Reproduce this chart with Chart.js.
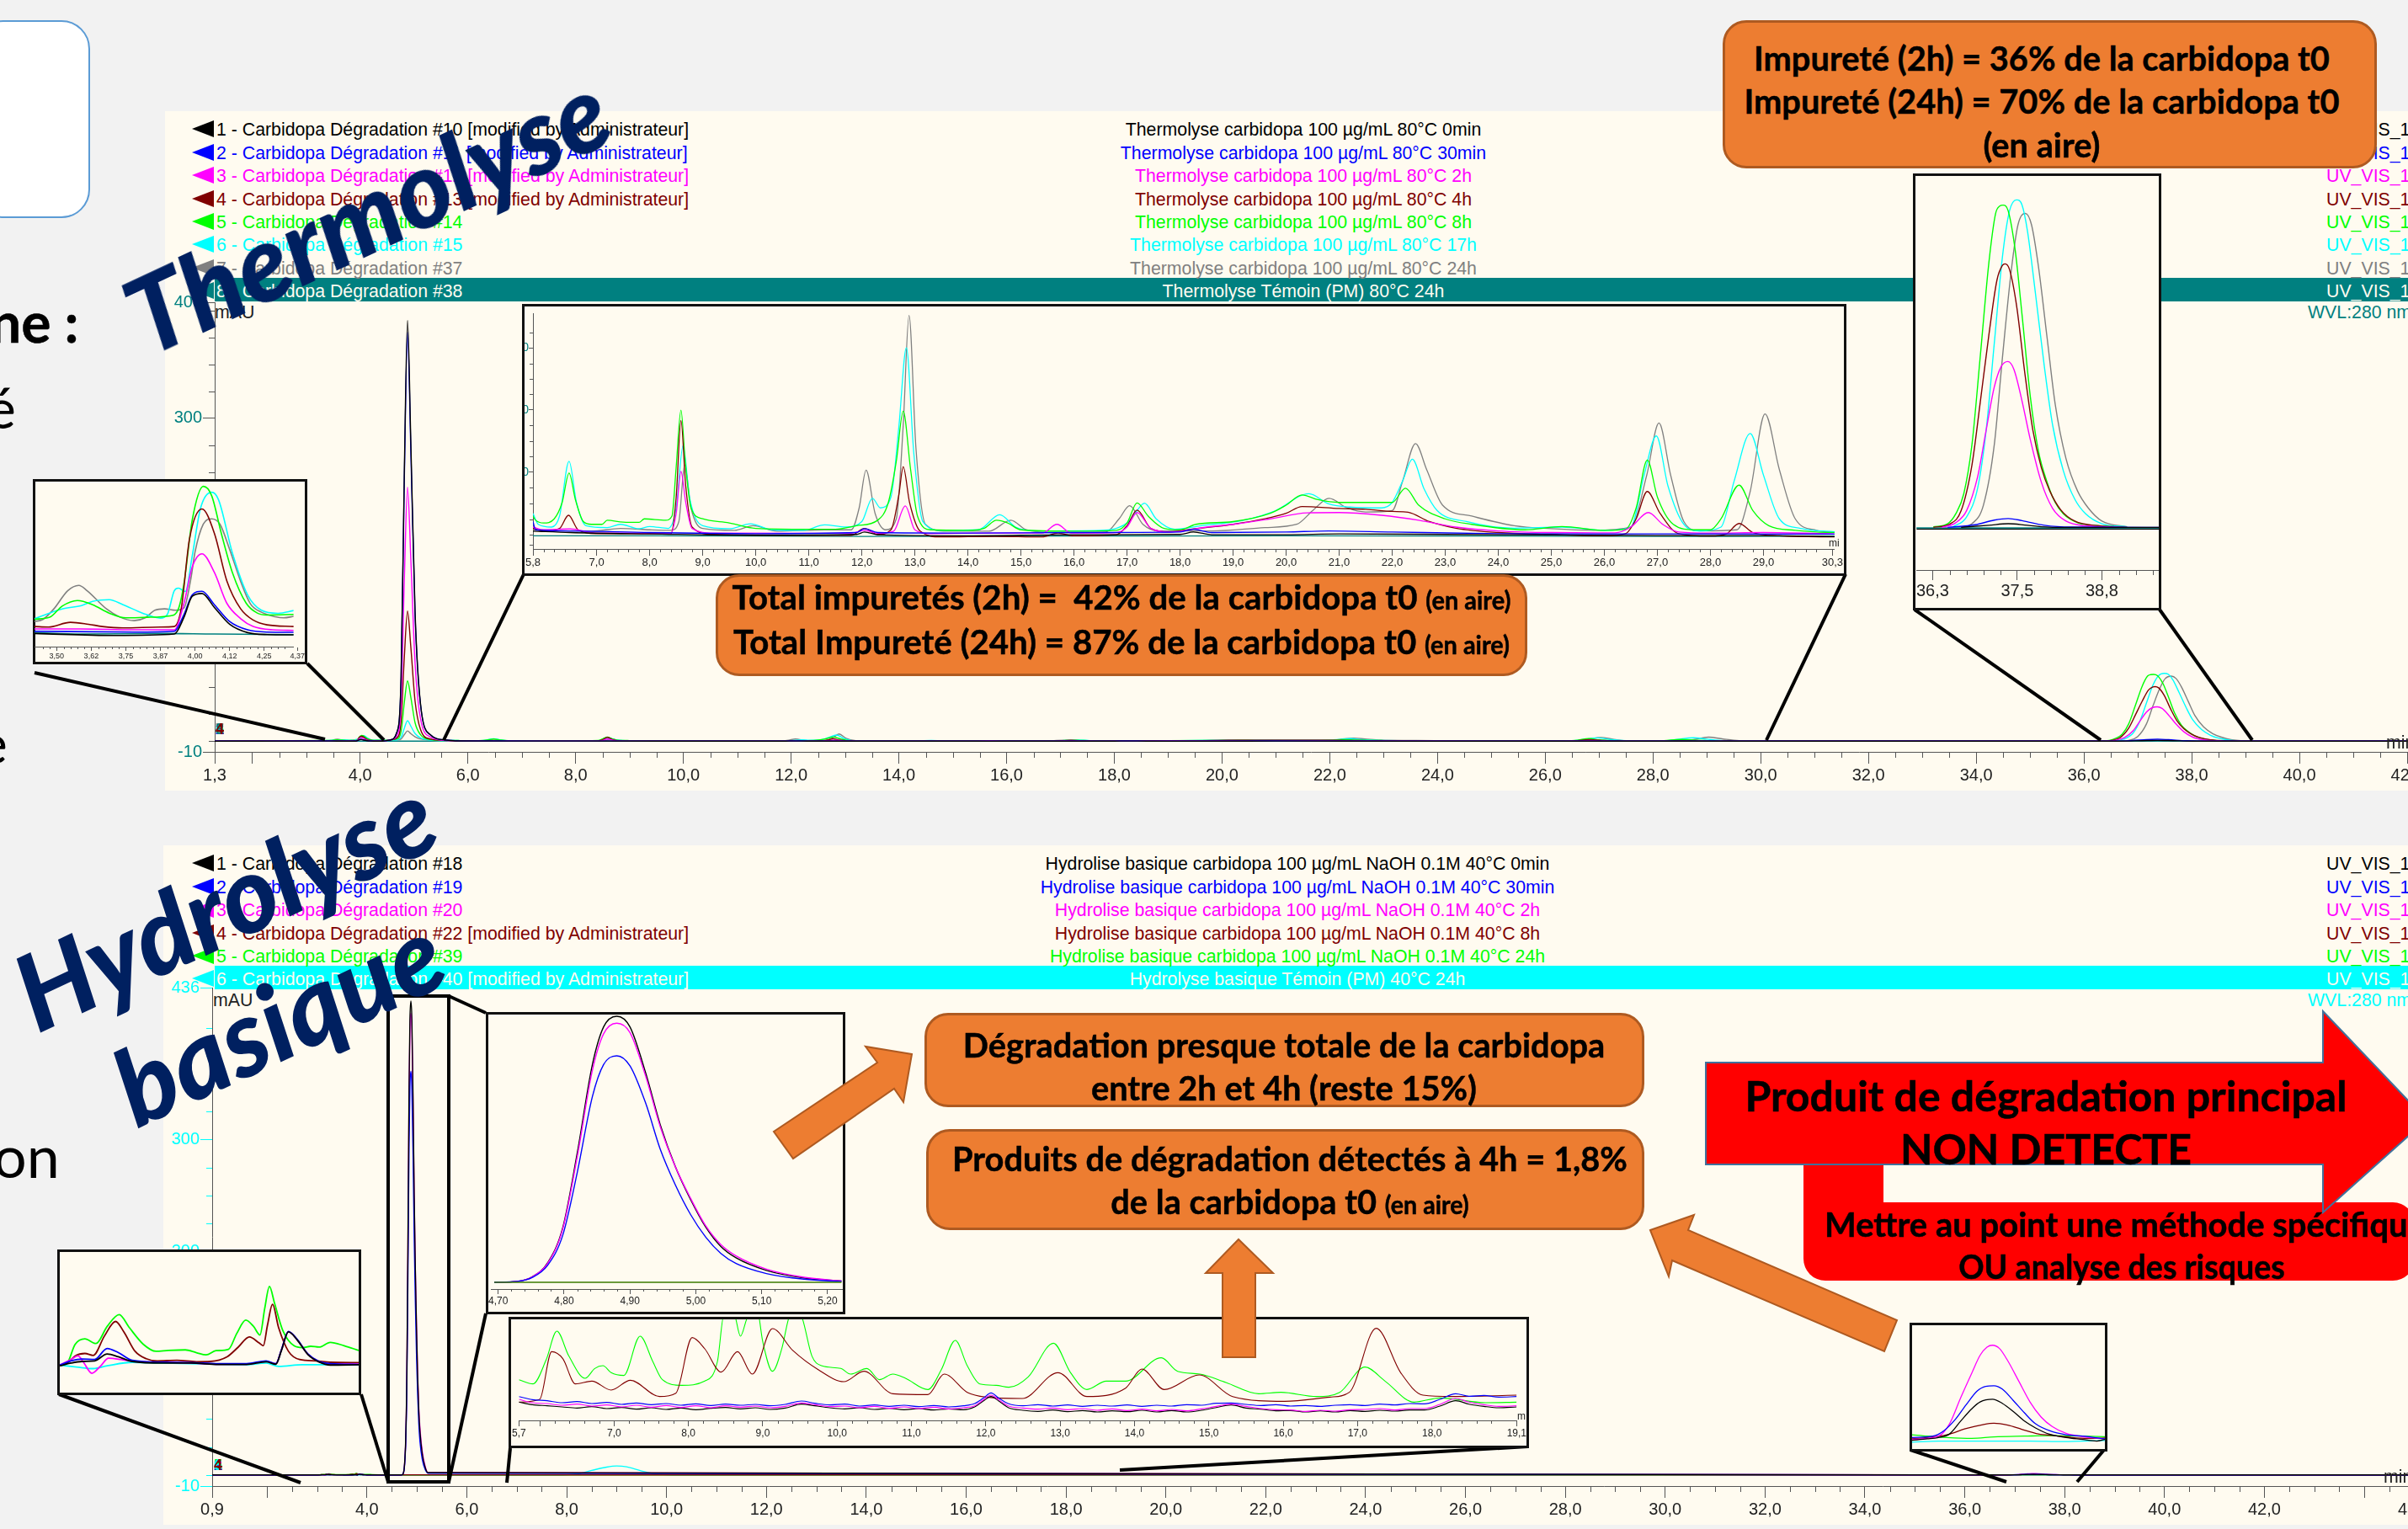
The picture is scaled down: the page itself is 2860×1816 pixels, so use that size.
<!DOCTYPE html>
<html>
<head>
<meta charset="utf-8">
<title>Carbidopa</title>
<script src="https://cdn.jsdelivr.net/npm/chart.js@4"></script>
<style>
  html, body { margin: 0; padding: 0; background: #f2f2f2; }
  #stage { position: relative; width: 2860px; height: 1816px; overflow: hidden; background: #f2f2f2; font-family: "Liberation Sans", Arial, sans-serif; }
  #stage > * { position: absolute; }
  .row { white-space: nowrap; font-size: 21.3px; line-height: 24px; }
  .box { background: #ed7d31; border: 3px solid #ae5a21; border-radius: 28px; box-sizing: border-box; }
  .say { font-family: Lato, sans-serif; font-weight: 700; color: #000; white-space: nowrap; -webkit-text-stroke: 0.5px #000; }
  .say small { font-size: 0.72em; }
  .plain { font-family: Lato, sans-serif; color: #000; white-space: nowrap; }
  .frame { background: #fffbf0; border: 3px solid #111; box-sizing: border-box; }
  .title { font-family: Lato, sans-serif; font-weight: 900; font-style: italic; color: #002060; white-space: nowrap; }
</style>
</head>
<body>
<div id="stage"></div>
<script>
// Trace colours, same order in both runs
const black = "#000000", blue = "#0000ff", magenta = "#ff00ff", darkRed = "#800000";
const green = "#00ff00", cyan = "#00ffff", gray = "#808080", teal = "#008080";

// ---- legend texts ----
const thermoRuns = [
  "1 - Carbidopa Dégradation #10 [modified by Administrateur]",
  "2 - Carbidopa Dégradation #11 [modified by Administrateur]",
  "3 - Carbidopa Dégradation #12 [modified by Administrateur]",
  "4 - Carbidopa Dégradation #13 [modified by Administrateur]",
  "5 - Carbidopa Dégradation #14",
  "6 - Carbidopa Dégradation #15",
  "7 - Carbidopa Dégradation #37",
  "8 - Carbidopa Dégradation #38",
];
const thermoSamples = [
  "Thermolyse carbidopa 100 µg/mL 80°C 0min",
  "Thermolyse carbidopa 100 µg/mL 80°C 30min",
  "Thermolyse carbidopa 100 µg/mL 80°C 2h",
  "Thermolyse carbidopa 100 µg/mL 80°C 4h",
  "Thermolyse carbidopa 100 µg/mL 80°C 8h",
  "Thermolyse carbidopa 100 µg/mL 80°C 17h",
  "Thermolyse carbidopa 100 µg/mL 80°C 24h",
  "Thermolyse Témoin (PM) 80°C 24h",
];
const thermoColors = [black, blue, magenta, darkRed, green, cyan, gray, teal];
const hydroRuns = [
  "1 - Carbidopa Dégradation #18",
  "2 - Carbidopa Dégradation #19",
  "3 - Carbidopa Dégradation #20",
  "4 - Carbidopa Dégradation #22 [modified by Administrateur]",
  "5 - Carbidopa Dégradation #39",
  "6 - Carbidopa Dégradation #40 [modified by Administrateur]",
];
const hydroSamples = [
  "Hydrolise basique carbidopa 100 µg/mL NaOH 0.1M 40°C 0min",
  "Hydrolise basique carbidopa 100 µg/mL NaOH 0.1M 40°C 30min",
  "Hydrolise basique carbidopa 100 µg/mL NaOH 0.1M 40°C 2h",
  "Hydrolise basique carbidopa 100 µg/mL NaOH 0.1M 40°C 8h",
  "Hydrolise basique carbidopa 100 µg/mL NaOH 0.1M 40°C 24h",
  "Hydrolyse basique Témoin (PM) 40°C 24h",
];
const hydroColors = [black, blue, magenta, darkRed, green, cyan];

// ---- ticks ----
const thermoXTicks = [1.3, 2, 4, 6, 8, 10, 12, 14, 16, 18, 20, 22, 24, 26, 28, 30, 32, 34, 36, 38, 40, 42];
const thermoXLabels = ["1,3", "", "4,0", "6,0", "8,0", "10,0", "12,0", "14,0", "16,0", "18,0", "20,0", "22,0", "24,0", "26,0", "28,0", "30,0", "32,0", "34,0", "36,0", "38,0", "40,0", "42,0"];
const thermoYTicks = [408, 300, 200, 100, -10];
const thermoYLabels = ["408", "300", "200", "100", "-10"];
const hydroXTicks = [0.9, 2, 4, 6, 8, 10, 12, 14, 16, 18, 20, 22, 24, 26, 28, 30, 32, 34, 36, 38, 40, 42, 44, 45];
const hydroXLabels = ["0,9", "", "4,0", "6,0", "8,0", "10,0", "12,0", "14,0", "16,0", "18,0", "20,0", "22,0", "24,0", "26,0", "28,0", "30,0", "32,0", "34,0", "36,0", "38,0", "40,0", "42,0", "", "45,0"];
const hydroYTicks = [436, 300, 200, 100, -10];
const hydroYLabels = ["436", "300", "200", "100", "-10"];
const yMinorMain = [400, 375, 350, 325, 275, 250, 225, 175, 150, 125, 75, 50, 25, 0];
const insetATicks = [3.5, 3.625, 3.75, 3.875, 4, 4.125, 4.25, 4.37];
const insetALabels = ["3,50", "3,62", "3,75", "3,87", "4,00", "4,12", "4,25", "4,37"];
const thermoMidTicks = [5.8, 7, 8, 9, 10, 11, 12, 13, 14, 15, 16, 17, 18, 19, 20, 21, 22, 23, 24, 25, 26, 27, 28, 29, 30.3];
const thermoMidLabels = ["5,8", "7,0", "8,0", "9,0", "10,0", "11,0", "12,0", "13,0", "14,0", "15,0", "16,0", "17,0", "18,0", "19,0", "20,0", "21,0", "22,0", "23,0", "24,0", "25,0", "26,0", "27,0", "28,0", "29,0", "30,3"];
const thermoMidYTicks = [68.5, 45.8, 23];
const thermoMidYLabels = ["6,0", "4,0", "2,0"];
const insetBTicks = [36.25, 37.5, 38.75];
const insetBLabels = ["36,3", "37,5", "38,8"];
const hydroMidTicks = [5.72, 6, 7, 8, 9, 10, 11, 12, 13, 14, 15, 16, 17, 18, 19.14];
const hydroMidLabels = ["5,7", "", "7,0", "8,0", "9,0", "10,0", "11,0", "12,0", "13,0", "14,0", "15,0", "16,0", "17,0", "18,0", "19,1"];
const insetCTicks = [4.7, 4.8, 4.9, 5, 5.1, 5.2];
const insetCLabels = ["4,70", "4,80", "4,90", "5,00", "5,10", "5,20"];

// ---- thermolysis, main peak at 4,88 min (mAU) ----
const thermoPeakTimes = [4.42, 4.55, 4.68, 4.76, 4.82, 4.88, 4.94, 5.02, 5.12, 5.3, 5.6];
const thermoPeakBlack = [0, 1, 8, 60, 250, 391, 280, 120, 35, 6, 1];
const thermoPeakBlue = [0, 1, 8, 58, 243, 380, 272, 116, 34, 6, 1];
const thermoPeakMagenta = [0.1, 1, 5, 36, 150, 236, 170, 72, 21, 4, 0.6];
const thermoPeakDarkRed = [0.2, 1, 3, 19, 78, 121, 88, 37, 11, 2, 0.6];
const thermoPeakGreen = [0.6, 1, 2, 9, 36, 56, 41, 17, 6, 1.5, 0.5];
const thermoPeakCyan = [0.7, 0.8, 1.2, 3.5, 12, 19, 14, 7, 3, 1, 0.4];
const thermoPeakGray = [0.6, 0.7, 1, 2, 6, 9.5, 7, 4, 2, 0.8, 0.3];
const thermoPeakTeal = [0, 0, 0, 0, 0, 0, 0, 0, 0, 0, 0];

// ---- thermolysis, zoom 3,4 - 4,4 min: [time, value] ----
const aGray = [[3.42,.47],[3.45,.54],[3.49,.92],[3.54,1.57],[3.58,1.76],[3.61,1.57],[3.68,.92],[3.73,.62],[3.78,.5],[3.82,.6],[3.855,.87],[3.89,.92],[3.93,.87],[3.96,.95],[3.985,2],[4,2.95],[4.03,3.95],[4.06,4.14],[4.09,3.95],[4.125,3.05],[4.165,1.9],[4.2,1.1],[4.24,.8],[4.29,.64],[4.32,.6],[4.36,.66]];
const aGreen = [[3.42,.55],[3.475,.62],[3.52,1.02],[3.575,1.22],[3.63,1.07],[3.69,.77],[3.75,.6],[3.83,.62],[3.91,.67],[3.94,.92],[3.96,1.82],[3.99,4.1],[4.03,5.3],[4.06,4.97],[4.095,3.62],[4.135,2.22],[4.185,1.12],[4.225,.77],[4.26,.7],[4.357,.72]];
const aCyan = [[3.42,.57],[3.52,.92],[3.59,1.04],[3.63,1.19],[3.69,1.25],[3.74,1.07],[3.81,.77],[3.875,.59],[3.9,.72],[3.925,1.57],[3.94,1.66],[3.965,1.54],[3.99,2.82],[4.02,4.52],[4.06,5.09],[4.085,4.82],[4.135,2.92],[4.19,1.42],[4.24,.87],[4.3,.76],[4.357,.86]];
const aDarkRed = [[3.42,.29],[3.47,.27],[3.55,.44],[3.615,.37],[3.665,.29],[3.74,.24],[3.875,.27],[3.925,.29],[3.95,.92],[3.98,3.42],[4.025,4.49],[4.07,3.62],[4.115,1.92],[4.165,.92],[4.21,.52],[4.26,.35],[4.357,.29]];
const aMagenta = [[3.42,.2],[3.585,.2],[3.78,.17],[3.925,.17],[3.96,1.12],[3.99,2.42],[4.025,2.89],[4.07,2.22],[4.115,1.12],[4.165,.57],[4.21,.29],[4.28,.17],[4.357,.15]];
const aBlue = [[3.42,.12],[3.78,.09],[3.925,.12],[3.96,.72],[3.99,1.42],[4.025,1.55],[4.07,1.07],[4.125,.47],[4.19,.17],[4.26,.09],[4.357,.08]];
const aBlack = [[3.42,.04],[3.71,-.03],[3.925,.02],[3.96,.62],[3.99,1.37],[4.025,1.47],[4.07,.97],[4.125,.37],[4.19,.07],[4.26,0],[4.357,-.01]];
const aTeal = [[3.42,.07],[3.585,.02],[3.87,.04],[4.07,.02],[4.357,0]];

// ---- thermolysis, zoom 5,8 - 30 min ----
const midBlack = [[5.8,1.5],[6.5,1],[8,.5],[10,0],[11.9,.3],[12.05,1.2],[12.3,.2],[14,-.2],[16,.2],[18,.3],[18.25,1.2],[18.6,.2],[20,.2],[21,.5],[23,.3],[25,.1],[27,-.1],[29,-.1],[30.4,-.5]];
const midBlue = [[5.8,5],[5.85,2],[6.5,1.6],[8,1],[10,.6],[11.9,1],[12.05,2.4],[12.3,1],[14,.8],[16,1],[18,1.2],[18.25,2.2],[18.6,1],[20,1.2],[20.8,1.6],[22,1.2],[24,.6],[26,.5],[28,.5],[30.4,.4]];
const midMagenta = [[5.8,3],[6,2],[6.5,2.3],[7,.8],[8.4,.8],[8.5,8],[8.59,23.3],[8.68,12],[8.8,2.5],[9.2,.8],[11.8,.7],[12.05,1.8],[12.3,.7],[12.6,1.5],[12.82,10.7],[13,2],[13.3,.6],[14.5,.8],[15.4,.8],[15.68,4],[15.95,.8],[16.8,1],[17,3],[17.19,8.3],[17.45,2.5],[17.8,1.2],[18.5,3],[19,4],[19.7,6],[20.4,8.2],[21,8.3],[21.8,7.3],[22.5,5.5],[23.2,3],[24,1.6],[25,1],[26.2,.9],[26.5,3],[26.83,8.3],[27.1,4],[27.4,1.2],[28,.8],[29,1],[30.4,.5]];
const midDarkRed = [[5.8,2.5],[6,1.5],[6.3,2.5],[6.47,7.3],[6.65,2],[7,.6],[8.4,.5],[8.5,14],[8.59,41.9],[8.68,18],[8.8,3],[9.2,.3],[11.8,0],[12.05,2.5],[12.3,.3],[12.55,2],[12.7,15],[12.78,25],[12.9,12],[13.1,1.5],[13.5,-.6],[14.5,-.4],[15.4,-.6],[15.7,.8],[16,-.2],[16.8,.2],[17,3.5],[17.19,9.2],[17.45,2.5],[17.8,1.2],[18.2,2.2],[19,4],[19.6,6],[20,8],[20.3,10.5],[21,9.8],[21.5,9.5],[22,8.7],[22.3,8.4],[22.7,5],[23.2,2.6],[24,1],[25,.3],[26,-.2],[26.4,.6],[26.6,6],[26.81,16],[27.05,8],[27.4,.6],[28,-.3],[28.3,.5],[28.54,4.3],[28.8,1],[29.3,-.2],[30.4,-.6]];
const midGreen = [[5.8,7],[5.85,5.5],[6,4.5],[6.2,6],[6.35,12],[6.48,22.7],[6.6,13],[6.75,5],[6.9,4],[7.1,4],[7.2,5.5],[7.5,4.8],[7.8,4.7],[7.9,6],[8.3,5.5],[8.42,7],[8.5,25],[8.59,45.7],[8.67,27],[8.78,10],[9,6],[9.5,4.5],[10,2.5],[11,2.2],[11.5,2.2],[11.9,3.5],[12.3,5.5],[12.5,12],[12.65,27],[12.78,45.3],[12.92,24],[13.05,7],[13.3,2],[14,1.8],[14.3,2.5],[14.54,5.5],[14.75,4.5],[15,2],[16,1.5],[16.8,1.8],[17,4.5],[17.19,11.8],[17.4,7],[17.7,2.5],[18,2],[18.3,4],[19,5],[19.7,8],[20,11],[20.3,14.7],[20.6,13],[21,12],[21.5,12],[22,12],[22.25,17.2],[22.5,11],[23,6],[23.5,4],[24.5,2],[25.2,3.2],[26,1.8],[26.4,2.2],[26.6,10],[26.81,27.5],[27,14],[27.3,4],[27.7,2],[28,2],[28.2,6],[28.54,18.3],[28.8,9],[29.1,3.5],[29.6,1.8],[30,1.2],[30.4,1]];
const midCyan = [[5.8,8],[5.9,4],[6.15,3],[6.3,7],[6.48,27],[6.62,12],[6.8,3.5],[7.2,2.8],[7.45,4],[7.8,2.4],[8,3.2],[8.35,2.5],[8.5,10],[8.63,32.8],[8.75,14],[9,3.5],[9.5,2.4],[9.9,4.2],[10.3,2],[10.9,1.8],[11.3,3.8],[11.7,3],[12,5],[12.2,13.5],[12.35,10],[12.55,14],[12.7,40],[12.84,68.5],[12.98,30],[13.15,5],[13.5,1.8],[14.2,2],[14.6,7.5],[14.9,3],[15.3,1.6],[16.5,1.8],[17,4.5],[17.15,8],[17.33,11.7],[17.55,6],[17.9,2.2],[18.4,3.5],[19.2,5.5],[19.8,9],[20.43,15.2],[20.8,11.5],[21.2,10.3],[21.8,10],[22,12],[22.2,20],[22.38,27.8],[22.6,17],[22.85,9],[23.4,5],[24.3,2.6],[25.2,3],[26,1.8],[26.5,3],[26.75,22],[26.98,36.3],[27.2,18],[27.5,4],[27.8,1.6],[28.2,3],[28.45,20],[28.75,37.2],[29,22],[29.3,6],[29.7,2.5],[30.4,1.2]];
const midGray = [[5.8,2],[6,1.8],[6.9,1.5],[7.45,2.5],[8,2],[8.4,1.8],[8.55,5],[8.66,25.8],[8.78,10],[9,2.5],[9.6,1.8],[9.95,3.5],[10.4,1.5],[11.3,2],[11.8,2],[11.95,10],[12.08,23.8],[12.25,8],[12.45,2],[12.65,6],[12.78,40],[12.89,80.3],[13.02,32],[13.2,4],[13.6,1.5],[14.4,1.5],[14.81,5.5],[15.1,2],[15.6,1],[16.6,1.2],[16.85,6],[17.05,10.8],[17.3,4],[17.6,1.6],[18.6,1.6],[19.6,2.8],[20.2,4],[20.5,9],[20.81,13.5],[21.15,10],[21.5,8.5],[22,9],[22.2,20],[22.44,33.5],[22.65,24],[22.95,11],[23.5,7],[24.3,3.5],[25,2.4],[25.8,1.8],[26.5,3],[26.8,22],[27.03,41],[27.25,22],[27.5,5],[27.8,1.6],[28.5,2],[28.75,16],[29.03,44.3],[29.3,24],[29.6,6],[30,1.8],[30.4,1]];
const midTeal = [[5.8,-.2],[8,-.2],[12,-.4],[16,-.3],[20,-.2],[24,-.3],[28,-.4],[30.4,-.3]];

// ---- thermolysis, zoom 36 - 39,6 min (mAU) ----
const bGreen = [[36.26,.1],[36.47,.7],[36.59,2.6],[36.71,6.5],[36.83,15.9],[36.955,33.2],[37.08,50.9],[37.18,60.4],[37.24,61.8],[37.29,62],[37.365,60.9],[37.47,53.2],[37.57,40.9],[37.69,25.4],[37.81,14.8],[37.94,8.7],[38.06,4.8],[38.18,2.6],[38.39,.9],[38.71,.3],[39.12,0]];
const bDarkRed = [[36.26,0],[36.51,.7],[36.67,3.2],[36.83,12],[36.955,24.3],[37.08,37],[37.2,47.6],[37.28,50.4],[37.32,50.7],[37.385,49.6],[37.49,42.6],[37.61,29.8],[37.73,18.7],[37.855,11.5],[37.98,7],[38.14,3.4],[38.35,1.2],[38.71,.3],[39.12,0]];
const bCyan = [[36.55,.1],[36.75,2],[36.915,7.6],[37.04,18.7],[37.16,35.4],[37.28,52],[37.385,60.9],[37.49,63],[37.57,62],[37.65,57],[37.77,44.8],[37.9,30.9],[38.02,19.8],[38.18,10.9],[38.35,5.4],[38.51,2.6],[38.75,.7],[39.12,.1]];
const bGray = [[36.67,0],[36.83,.7],[37,4.3],[37.16,15.9],[37.28,32.6],[37.41,49.3],[37.51,58.2],[37.62,60.4],[37.71,58.2],[37.81,50.4],[37.94,36.5],[38.06,23.7],[38.22,13.2],[38.39,7],[38.55,3.7],[38.75,1.2],[39.12,.1]];
const bMagenta = [[36.385,0],[36.59,.9],[36.75,3.2],[36.915,9.8],[37.04,18.7],[37.16,27],[37.26,30.9],[37.36,31.9],[37.45,30.4],[37.57,24.3],[37.69,17],[37.855,8.7],[38.02,3.7],[38.22,1.2],[38.51,.3],[39.12,0]];
const bBlue = [[36.47,0],[36.875,.5],[37.16,1.4],[37.365,1.7],[37.57,1.3],[37.9,.4],[38.3,.05],[39.59,0]];
const bBlack = [[36.67,0],[37.08,.4],[37.365,.7],[37.65,.4],[38.02,0],[39.59,0]];
const bTeal = [[36,-.1],[37.5,-.1],[39.59,-.1]];
const bBase = [[36.01,-.3],[39.59,-.3]];

// ---- basic hydrolysis, main peak, also its zoom 4,7 - 5,2 min (mAU) ----
const cTimes = [4.694, 4.729, 4.752, 4.775, 4.798, 4.82, 4.843, 4.86, 4.88, 4.9, 4.924, 4.946, 4.969, 4.992, 5.015, 5.038, 5.061, 5.107, 5.164, 5.221];
const cBlack = [0, 1.5, 9, 31, 87, 206, 347, 407, 424, 407, 333, 251, 184, 132, 88, 57, 39, 19, 7, 2];
const cMagenta = [0, 1.5, 9, 30, 85, 200, 338, 396, 413, 398, 328, 248, 184, 134, 90, 60, 42, 21, 8, 2];
const cBlue = [0, 1.5, 8, 27, 75, 175, 296, 347, 361, 345, 285, 212, 155, 108, 72, 46, 30, 14, 5, 1.5];
const cFlat = [0, 0, 0, 0, 0, 0, 0, 0, 0, 0, 0, 0, 0, 0, 0, 0, 0, 0, 0, 0];

// ---- basic hydrolysis, small peaks around 3 - 4,1 min ----
const eGreen = [[3.03,0],[3.055,.05],[3.085,.75],[3.12,.95],[3.16,.78],[3.2,1.4],[3.243,1.83],[3.28,1.35],[3.33,.75],[3.375,.5],[3.42,.53],[3.48,.55],[3.52,.45],[3.555,.37],[3.59,.52],[3.635,.57],[3.665,1.15],[3.697,1.63],[3.725,1.4],[3.748,1.09],[3.765,2.05],[3.782,2.85],[3.8,2.25],[3.83,1.25],[3.87,.7],[3.9,.63],[3.93,.68],[3.96,.65],[4,.82],[4.05,.7],[4.102,.53]];
const eDarkRed = [[3.03,0],[3.06,.1],[3.085,.33],[3.12,.42],[3.15,.35],[3.19,1.05],[3.23,1.58],[3.26,1.2],[3.3,.5],[3.34,.23],[3.38,.15],[3.45,.17],[3.52,.12],[3.57,.13],[3.63,.3],[3.67,.65],[3.71,1.02],[3.745,.8],[3.76,.7],[3.775,1.45],[3.793,2.2],[3.815,1.35],[3.85,.5],[3.89,.2],[3.95,.15],[4,.1],[4.102,.09]];
const eBlue = [[3.03,0],[3.07,.15],[3.11,.22],[3.155,.2],[3.2,.6],[3.24,.45],[3.29,.17],[3.4,.1],[3.5,.09],[3.6,.05],[3.7,.05],[3.77,.15],[3.805,.05],[3.825,.55],[3.85,1.22],[3.88,.95],[3.92,.4],[3.96,.13],[4,.05],[4.102,.02]];
const eBlack = [[3.03,-.03],[3.07,.07],[3.11,.13],[3.155,.15],[3.2,.4],[3.24,.3],[3.29,.13],[3.4,.07],[3.5,.07],[3.6,.02],[3.7,.02],[3.77,.12],[3.805,.03],[3.825,.53],[3.85,1.2],[3.88,.93],[3.92,.38],[3.96,.11],[4,0],[4.102,.01]];
const eMagenta = [[3.03,0],[3.07,.2],[3.095,.33],[3.115,.1],[3.145,-.3],[3.175,-.05],[3.205,.25],[3.25,.2],[3.29,.13],[3.4,.1],[3.5,.07],[3.6,.03],[3.7,.03],[3.77,.13],[3.805,.05],[3.825,.55],[3.85,1.21],[3.88,.94],[3.92,.39],[3.96,.12],[4,.03],[4.102,.03]];
const eCyan = [[3.03,0],[3.09,-.07],[3.15,-.13],[3.2,-.03],[3.29,.1],[3.4,.07],[3.5,.05],[3.7,.01],[3.77,.07],[3.815,-.05],[3.9,.01],[4,.01],[4.102,.01]];

// ---- basic hydrolysis, zoom 5,7 - 19,1 min ----
const dGreen = [[5.72,14.5],[5.91,13],[6.085,21.5],[6.23,31.8],[6.39,23],[6.61,15],[6.74,18.5],[6.85,19.5],[6.96,17],[7.13,16],[7.35,30],[7.52,21],[7.65,14.5],[7.91,12.5],[8.22,14],[8.39,21],[8.48,38],[8.61,38],[8.7,30],[8.79,36.5],[8.92,40],[9,28],[9.13,17.5],[9.26,26],[9.35,36.5],[9.44,40],[9.53,36.5],[9.66,23],[9.79,19.5],[10.05,18.5],[10.18,16.5],[10.4,18.5],[10.57,14.5],[10.75,16.5],[10.92,15],[11.22,11],[11.4,18],[11.59,28.5],[11.75,19.5],[11.92,13],[12.14,12.5],[12.31,11.8],[12.57,15.5],[12.91,27.5],[13.14,17],[13.36,11],[13.62,14],[13.88,14],[14.36,22.3],[14.58,17.5],[14.88,16.5],[15.23,13.5],[15.67,9.5],[15.97,10],[16.45,8.5],[16.76,10],[17.1,19],[17.37,14],[17.76,6.5],[18.11,8],[18.72,6.3],[19.14,6.5]];
const dDarkRed = [[5.72,6.5],[6,7.5],[6.16,24.5],[6.31,22],[6.48,13],[6.7,14],[6.96,10.8],[7.22,14.3],[7.61,8.5],[7.83,9.7],[8.05,29.5],[8.22,25.5],[8.44,17.2],[8.66,24.5],[8.86,16.5],[9.13,32.7],[9.4,25],[9.75,18],[10.09,13.8],[10.36,17.5],[10.75,9.5],[11.22,9.2],[11.44,16.5],[11.75,10],[12.01,8.3],[12.49,7.8],[12.97,17],[13.36,8.5],[13.88,11.5],[14.1,18.3],[14.4,11],[14.87,16.2],[15.32,8.5],[16.02,6.8],[16.63,8.3],[16.89,10],[17.25,32.8],[17.58,17],[17.88,9],[18.28,8.5],[19.14,9]];
const dLowTimes = [5.72,5.9,6.1,6.3,6.5,6.7,6.9,7.1,7.3,7.5,7.7,7.9,8.1,8.3,8.5,8.7,8.9,9.1,9.3,9.52,9.7,9.9,10.1,10.3,10.5,10.7,10.9,11.1,11.3,11.5,11.7,11.85,11.97,12.07,12.17,12.3,12.5,12.7,12.9,13.1,13.3,13.5,13.7,13.9,14.1,14.3,14.5,14.7,14.9,15.1,15.3,15.5,15.7,15.9,16.1,16.3,16.5,16.7,16.9,17.1,17.3,17.5,17.7,17.9,18.1,18.32,18.5,18.7,18.9,19.14];
const dBlue = [8.5,7.4,7,6.3,6.7,6,6.4,5.7,6.2,5.6,6,5.4,5.9,5.3,5.8,5.4,5.7,5.2,5.7,6.9,6.1,5.5,5.8,5.1,5.5,5,5.4,4.9,5.3,4.8,5.2,6,8,9.8,8,6,5.2,5.6,5.1,5.5,5,5.4,5.1,5.5,5,5.4,5.1,5.6,5.4,6.1,6.2,5.7,5.3,5.6,5.1,5.3,5,5.4,5.6,5.3,5.8,5.5,6,5.9,7.4,9.5,8.6,8.9,8.3,8.5];
const dBlack = [6.5,5.6,5.2,4.8,4.4,4.9,4.2,4.6,4,4.5,3.9,4.4,3.8,4.3,4.6,4.1,4.5,3.9,4.4,5.8,5.2,4.5,4.1,4.5,3.9,4.3,3.8,4.2,3.7,4.1,3.8,4.8,7,8.5,7,4.6,3.6,3.2,3.7,3.1,3.5,3,3.4,3.1,3.6,3,3.5,3,3.6,4.6,5.5,4.4,4,3.4,3.5,3,3.4,3,3.5,3.2,3.6,3.3,3.7,3.7,5,7,5.8,5,4.5,4.8];
const dMagenta = [7.5,6.3,6,5.4,5.8,5.1,5.5,4.8,5.4,4.7,5.3,4.6,5.2,4.5,5.2,4.7,5.1,4.5,5,6.2,5.6,4.9,5.1,4.5,5,4.3,4.8,4.2,4.7,4.1,4.5,5.2,7.4,9,7.4,5.2,4.4,4,4.4,3.8,4.2,3.6,4.1,3.5,4,3.4,3.9,3.4,4.1,5,5.8,5,4.2,3.8,3.7,3.2,3.6,3.3,3.8,3.9,4.2,3.7,4.2,4.2,5.6,7.8,6.5,5.6,5,5.2];

// ---- basic hydrolysis, zoom around 37,4 min ----
const fMagenta = [[36.8,.08],[36.99,.2],[37.07,.65],[37.15,1.6],[37.23,2.5],[37.29,3.15],[37.34,3.45],[37.38,3.52],[37.43,3.4],[37.49,2.95],[37.57,2.2],[37.65,1.45],[37.73,.9],[37.81,.55],[37.91,.3],[38.03,.18],[38.19,.1]];
const fBlue = [[36.8,.15],[36.95,.2],[37.03,.4],[37.11,.8],[37.19,1.35],[37.27,1.85],[37.33,2.02],[37.39,2.04],[37.45,1.92],[37.53,1.5],[37.61,1.05],[37.69,.65],[37.79,.4],[37.91,.25],[38.03,.2],[38.19,.1]];
const fBlack = [[36.8,.05],[36.91,.1],[36.99,.15],[37.07,.28],[37.15,.75],[37.23,1.2],[37.29,1.45],[37.38,1.55],[37.45,1.4],[37.53,1.1],[37.61,.75],[37.69,.5],[37.79,.27],[37.91,.15],[38.03,.08],[38.13,.02],[38.19,.08]];
const fDarkRed = [[36.8,.1],[36.91,.15],[37.05,.25],[37.19,.48],[37.31,.62],[37.39,.67],[37.49,.6],[37.59,.45],[37.71,.28],[37.83,.22],[37.95,.15],[38.07,.12],[38.19,.13]];
const fGreen = [[36.8,.25],[36.91,.2],[37.05,.15],[37.23,.12],[37.39,.17],[37.61,.2],[37.79,.22],[38.03,.2],[38.19,.18]];
const fCyan = [[36.8,-.02],[36.99,.02],[37.23,.02],[37.39,.02],[37.65,.02],[37.89,0],[38.19,.04]];

// cyan hump of the control on the main hydrolysis trace
const hydroCyanHump = [[7.9,0],[8.2,.8],[8.5,4],[8.8,7],[9,8],[9.2,7.2],[9.5,3.5],[9.8,.8],[10.1,0]];

// the zoomed windows are the same traces at a bigger y scale
const scaled = (list, k) => list.map(([t, v]) => [t, v * k]);
const paired = (times, values) => times.map((t, i) => [t, values[i]]);
const thermoTrace = (a, peak, mid, b) => [[1.3, 0], ...a, ...paired(thermoPeakTimes, peak), ...scaled(mid, 0.083), ...b, [42, 0]];
const hydroTrace = (e, peak, f) => [[0.9, 0], ...scaled(e, 0.5), ...peak, ...f, [45.5, 0]];

const stage = document.getElementById("stage");

function addEl(cls, css, html) {
  const el = document.createElement("div");
  el.className = cls;
  el.style.cssText = css;
  if (html) el.innerHTML = html;
  stage.appendChild(el);
  return el;
}

// One Chart.js chart with its plot area pinned to given page pixels
function addChart(c) {
  const canvas = document.createElement("canvas");
  const w = c.box.right - c.box.left, h = c.box.bottom - c.box.top;
  canvas.width = w;
  canvas.height = h;
  canvas.style.cssText = `left:${c.box.left}px;top:${c.box.top}px;width:${w}px;height:${h}px;z-index:${c.z}`;
  stage.appendChild(canvas);

  const minorTicks = {
    id: "minorTicks",
    afterDraw(chart) {
      const ctx = chart.ctx, area = chart.chartArea;
      ctx.save();
      ctx.lineWidth = 1;
      ctx.strokeStyle = c.tickColor || "#555";
      (c.xMinor || []).forEach((t) => {
        const px = Math.round(chart.scales.x.getPixelForValue(t)) + 0.5;
        ctx.beginPath();
        ctx.moveTo(px, area.bottom);
        ctx.lineTo(px, area.bottom + c.minorLen);
        ctx.stroke();
      });
      ctx.strokeStyle = c.yTickColor || c.tickColor || "#555";
      (c.yMinor || []).forEach((v) => {
        const py = Math.round(chart.scales.y.getPixelForValue(v)) + 0.5;
        ctx.beginPath();
        ctx.moveTo(area.left, py);
        ctx.lineTo(area.left - c.yMinorLen, py);
        ctx.stroke();
      });
      ctx.restore();
    },
  };

  new Chart(canvas, {
    type: "line",
    data: {
      datasets: c.series.map((s) => ({
        data: s.data.map(([x, y]) => ({ x, y })),
        borderColor: s.color,
        borderWidth: s.width || c.width,
        pointRadius: 0,
        cubicInterpolationMode: "monotone",
        fill: false,
      })),
    },
    plugins: [minorTicks],
    options: {
      responsive: false,
      animation: false,
      parsing: false,
      normalized: true,
      layout: {
        autoPadding: false,
        padding: { top: c.plot.top - c.box.top, right: c.box.right - c.plot.right, left: 0, bottom: 0 },
      },
      plugins: { legend: { display: false }, tooltip: { enabled: false }, title: { display: false } },
      scales: {
        x: {
          type: "linear",
          min: c.xMin,
          max: c.xMax,
          afterBuildTicks: (s) => { s.ticks = (c.xTicks || []).map((value) => ({ value })); },
          afterFit: (s) => { s.height = c.box.bottom - c.plot.bottom; },
          border: { display: c.xAxis !== false, color: c.tickColor || "#555" },
          grid: { drawOnChartArea: false, drawTicks: !!c.xTicks, tickLength: c.majorLen || 8, color: c.tickColor || "#555" },
          ticks: {
            autoSkip: false, maxRotation: 0, minRotation: 0, padding: c.xPad || 0,
            font: { size: c.xFont || 12, family: "Liberation Sans" },
            color: "#222",
            callback: (v, i) => (c.xLabels ? c.xLabels[i] : ""),
          },
        },
        y: {
          type: "linear",
          min: c.yMin,
          max: c.yMax,
          afterBuildTicks: (s) => { s.ticks = (c.yTicks || []).map((value) => ({ value })); },
          afterFit: (s) => { s.width = c.plot.left - c.box.left; },
          border: { display: c.yAxis !== false, color: c.axisColor || "#555" },
          grid: { drawOnChartArea: false, drawTicks: !!c.yTicks, tickLength: c.yMajorLen || 14, color: c.yTickColor || "#555" },
          ticks: {
            autoSkip: false, padding: c.yPad || 0,
            font: { size: c.yFont || 20, family: "Liberation Sans" },
            color: c.yColor || "#222",
            callback: (v, i) => (c.yLabels ? c.yLabels[i] : ""),
          },
        },
      },
    },
  });
}

// tick position lists for the unlabelled small ticks: typed once per axis
const thermoXMinor = [2.5,3,3.5,4.5,5,5.5,6.5,7,7.5,8.5,9,9.5,10.5,11,11.5,12.5,13,13.5,14.5,15,15.5,16.5,17,17.5,18.5,19,19.5,20.5,21,21.5,22.5,23,23.5,24.5,25,25.5,26.5,27,27.5,28.5,29,29.5,30.5,31,31.5,32.5,33,33.5,34.5,35,35.5,36.5,37,37.5,38.5,39,39.5,40.5,41,41.5];
const hydroXMinor = [...thermoXMinor, 42.5, 43, 43.5, 44.5];
const aMinor = [3.45,3.475,3.525,3.55,3.575,3.6,3.65,3.675,3.7,3.725,3.775,3.8,3.825,3.85,3.9,3.925,3.95,3.975,4.025,4.05,4.075,4.1,4.15,4.175,4.2,4.225,4.275,4.3,4.325];
const midMinor = [6,6.2,6.4,6.6,6.8,7.2,7.4,7.6,7.8,8.2,8.4,8.6,8.8,9.2,9.4,9.6,9.8,10.2,10.4,10.6,10.8,11.2,11.4,11.6,11.8,12.2,12.4,12.6,12.8,13.2,13.4,13.6,13.8,14.2,14.4,14.6,14.8,15.2,15.4,15.6,15.8,16.2,16.4,16.6,16.8,17.2,17.4,17.6,17.8,18.2,18.4,18.6,18.8,19.2,19.4,19.6,19.8,20.2,20.4,20.6,20.8,21.2,21.4,21.6,21.8,22.2,22.4,22.6,22.8,23.2,23.4,23.6,23.8,24.2,24.4,24.6,24.8,25.2,25.4,25.6,25.8,26.2,26.4,26.6,26.8,27.2,27.4,27.6,27.8,28.2,28.4,28.6,28.8,29.2,29.4,29.6,29.8,30];
const bMinor = [36.5,36.75,37,37.25,37.75,38,38.25,38.5,39,39.25,39.5];
const cMinor = [4.72,4.74,4.76,4.78,4.82,4.84,4.86,4.88,4.92,4.94,4.96,4.98,5.02,5.04,5.06,5.08,5.12,5.14,5.16,5.18];
const midYMinor = [74.2,62.8,57.1,51.5,40.1,34.4,28.7,17.3,11.6,5.9,.2,-3.5];

// ---- panels and legends ----
function addPanel(top, height, left, runs, samples, colors, rows, sampleX, barColor, barText, wvlColor, wvlTop, unitLeft, unitTop) {
  addEl("panel", `left:${left}px;top:${top}px;width:${2860 - left}px;height:${height}px;background:#fffbf0;z-index:0`);
  const barRow = rows.length - 1;
  addEl("", `left:255px;top:${rows[barRow] - 16}px;width:2605px;height:28px;background:${barColor};z-index:1`);
  rows.forEach((y, i) => {
    const col = i === barRow ? barText : colors[i];
    addEl("", `left:228px;top:${y - 11}px;width:26px;height:20px;background:${colors[i]};clip-path:polygon(0 50%,100% 0,100% 100%);z-index:1`);
    addEl("row", `left:257px;top:${y - 12}px;color:${col};z-index:2`, runs[i]);
    addEl("row", `left:${sampleX}px;top:${y - 12}px;color:${col};transform:translateX(-50%);z-index:2`, samples[i]);
    addEl("row", `left:2763px;top:${y - 12}px;color:${col};z-index:2`, "UV_VIS_1");
  });
  addEl("row", `left:2741px;top:${wvlTop}px;color:${wvlColor};z-index:2`, "WVL:280 nm");
  addEl("row", `left:${unitLeft}px;top:${unitTop}px;color:#222;z-index:2`, "mAU");
}
addPanel(132, 807, 196, thermoRuns, thermoSamples, thermoColors, [154, 182, 209, 237, 264, 291, 319, 346], 1548, teal, "#fffbf0", teal, 359, 255, 359);
addPanel(1004, 807, 194, hydroRuns, hydroSamples, hydroColors, [1026, 1054, 1081, 1109, 1136, 1163], 1541, cyan, "#fffbf0", cyan, 1176, 253, 1176);

// cut-off words of the slide text behind the charts
addEl("say", "left:-12px;top:345px;font-size:66px;line-height:74px;z-index:0", "ne :");
addEl("plain", "left:-16px;top:447px;font-size:66px;line-height:74px;z-index:0", "é");
addEl("plain", "left:-26px;top:845px;font-size:66px;line-height:74px;z-index:0", "e");
addEl("plain", "left:-8px;top:1333px;font-size:70px;line-height:78px;z-index:0", "on");
addEl("", "left:-30px;top:24px;width:137px;height:235px;background:#fff;border:2px solid #5b9bd5;border-radius:34px;box-sizing:border-box;z-index:0");

// ---- main chromatograms ----
addChart({
  z: 3, box: { left: 196, top: 340, right: 2900, bottom: 939 }, plot: { left: 255, top: 359, right: 2859, bottom: 893 },
  xMin: 1.3, xMax: 42, yMin: -10, yMax: 408, width: 1.4,
  xTicks: thermoXTicks, xLabels: thermoXLabels, xMinor: thermoXMinor, majorLen: 14, minorLen: 7, xFont: 20, xPad: 2,
  yTicks: thermoYTicks, yLabels: thermoYLabels, yMinor: yMinorMain, yMinorLen: 7, yColor: teal, yPad: 1,
  series: [
    { color: black, data: thermoTrace(aBlack, thermoPeakBlack, midBlack, bBlack) },
    { color: blue, data: thermoTrace(aBlue, thermoPeakBlue, midBlue, bBlue) },
    { color: magenta, data: thermoTrace(aMagenta, thermoPeakMagenta, midMagenta, bMagenta) },
    { color: darkRed, data: thermoTrace(aDarkRed, thermoPeakDarkRed, midDarkRed, bDarkRed) },
    { color: green, data: thermoTrace(aGreen, thermoPeakGreen, midGreen, bGreen) },
    { color: cyan, data: thermoTrace(aCyan, thermoPeakCyan, midCyan, bCyan) },
    { color: gray, data: thermoTrace(aGray, thermoPeakGray, midGray, bGray) },
    { color: teal, data: thermoTrace(aTeal, thermoPeakTeal, midTeal, bTeal) },
  ],
});
addChart({
  z: 3, box: { left: 194, top: 1160, right: 2910, bottom: 1811 }, plot: { left: 252, top: 1173, right: 2897, bottom: 1765 },
  xMin: 0.9, xMax: 45.5, yMin: -10, yMax: 436, width: 1.4,
  xTicks: hydroXTicks, xLabels: hydroXLabels, xMinor: hydroXMinor, majorLen: 14, minorLen: 7, xFont: 20, xPad: 2,
  yTicks: hydroYTicks, yLabels: hydroYLabels, yMinor: yMinorMain, yMinorLen: 7, yColor: cyan, yTickColor: cyan, yPad: 1,
  series: [
    { color: black, data: hydroTrace(eBlack, paired(cTimes, cBlack), scaled(fBlack, 0.33)) },
    { color: blue, data: hydroTrace(eBlue, paired(cTimes, cBlue), scaled(fBlue, 0.33)) },
    { color: magenta, data: hydroTrace(eMagenta, paired(cTimes, cMagenta), scaled(fMagenta, 0.33)) },
    { color: darkRed, data: hydroTrace(eDarkRed, paired(cTimes, cFlat), scaled(fDarkRed, 0.33)) },
    { color: green, data: hydroTrace(eGreen, paired(cTimes, cFlat), scaled(fGreen, 0.33)) },
    { color: cyan, data: [[0.9, 0], ...scaled(eCyan, 0.5), ...hydroCyanHump, ...scaled(fCyan, 0.33), [45.5, 0]] },
  ],
});

// the stacked run numbers at the start of each trace, number 4 ends up on top
function addRunDigits(left, top, colors) {
  const order = colors.map((col, i) => i).sort((a, b) => (a === 3 ? 1 : 0) - (b === 3 ? 1 : 0));
  order.forEach((i) => {
    addEl("", `left:${left}px;top:${top}px;font-size:18px;font-weight:700;line-height:20px;color:${colors[i]};z-index:4`, String(i + 1));
  });
}
addRunDigits(256, 856, thermoColors);
addRunDigits(254, 1730, hydroColors);
addEl("row", "left:2834px;top:870px;color:#222;z-index:4", "min");
addEl("row", "left:2831px;top:1742px;color:#222;z-index:4", "min");

// ---- leader lines, boxes, arrows (page pixels) ----
const svgNS = "http://www.w3.org/2000/svg";
const svg = document.createElementNS(svgNS, "svg");
svg.setAttribute("width", 2860);
svg.setAttribute("height", 1816);
svg.style.cssText = "left:0;top:0;z-index:4";
stage.appendChild(svg);
const svgTop = document.createElementNS(svgNS, "svg");
svgTop.setAttribute("width", 2860);
svgTop.setAttribute("height", 1816);
svgTop.style.cssText = "left:0;top:0;z-index:7";
stage.appendChild(svgTop);

function line(x1, y1, x2, y2) {
  const l = document.createElementNS(svgNS, "line");
  Object.entries({ x1, y1, x2, y2, stroke: "#000", "stroke-width": 4 }).forEach(([k, v]) => l.setAttribute(k, v));
  svg.appendChild(l);
}
[
  [41, 799, 386, 878], [365, 788, 456, 879], [622, 682, 527, 879], [2192, 682, 2098, 879],
  [2274, 724, 2495, 879], [2565, 724, 2675, 879],
  [70, 1656, 357, 1761], [429, 1656, 461, 1760], [533, 1183, 577, 1203], [577, 1560, 533, 1760],
  [606, 1720, 602, 1761], [1815, 1718, 1330, 1746], [2269, 1722, 2383, 1760], [2499, 1722, 2467, 1760],
].forEach((p) => line(...p));
function rect(target, attrs) {
  const r = document.createElementNS(svgNS, "rect");
  Object.entries(attrs).forEach(([k, v]) => r.setAttribute(k, v));
  target.appendChild(r);
}
rect(svg, { x: 461, y: 1183, width: 72, height: 577, fill: "none", stroke: "#000", "stroke-width": 4 });

function poly(target, points, fill, stroke, width) {
  const p = document.createElementNS(svgNS, "polygon");
  p.setAttribute("points", points);
  p.setAttribute("fill", fill);
  if (stroke) {
    p.setAttribute("stroke", stroke);
    p.setAttribute("stroke-width", width);
  }
  target.appendChild(p);
}
// orange arrows
poly(svgTop, "1083,1252 1028,1243 1042,1262 919,1344 942,1376 1062,1293 1073,1309", "#ed7d31", "#ae5a21", 2);
poly(svgTop, "1471,1472 1432,1512 1452,1512 1452,1612 1491,1612 1491,1512 1512,1512", "#ed7d31", "#ae5a21", 2);
poly(svgTop, "1960,1461 2012,1443 2005,1461 2253,1568 2238,1605 1986,1497 1982,1516", "#ed7d31", "#ae5a21", 2);
// red box with its step on the left, then the red arrow on it
rect(svgTop, { x: 2142, y: 1370, width: 95, height: 110, fill: "#ff0000" });
rect(svgTop, { x: 2142, y: 1428, width: 726, height: 93, rx: 26, fill: "#ff0000" });
poly(svgTop, "2026,1262 2759,1262 2759,1201 2882,1330 2759,1440 2759,1383 2026,1383", "#ff0000", "#41719c", 2);

// ---- callouts ----
function addBox(left, top, right, bottom) {
  addEl("box", `left:${left}px;top:${top}px;width:${right - left}px;height:${bottom - top}px;z-index:8`);
}
function addSay(cx, cy, html, size, squeeze) {
  addEl("say", `left:${cx}px;top:${cy}px;font-size:${size}px;line-height:1;transform:translate(-50%,-50%) scaleX(${squeeze});z-index:9`, html);
}
addBox(2046, 24, 2823, 200);
addSay(2425, 68, "Impureté (2h) = 36% de la carbidopa t0", 41, 0.97);
addSay(2425, 119, "Impureté (24h) = 70% de la carbidopa t0", 41, 0.97);
addSay(2425, 171, "(en aire)", 41, 0.97);
addBox(850, 682, 1814, 803);
addSay(1332, 708, "Total impuretés (2h) =&nbsp; 42% de la carbidopa t0 <small>(en aire)</small>", 41, 0.98);
addSay(1332, 761, "Total Impureté (24h) = 87% de la carbidopa t0 <small>(en aire)</small>", 41, 0.98);
addBox(1098, 1203, 1953, 1315);
addSay(1525, 1240, "Dégradation presque totale de la carbidopa", 41, 0.97);
addSay(1525, 1291, "entre 2h et 4h (reste 15%)", 41, 0.97);
addBox(1100, 1341, 1953, 1461);
addSay(1532, 1375, "Produits de dégradation détectés à 4h = 1,8%", 41, 0.97);
addSay(1532, 1426, "de la carbidopa t0 <small>(en aire)</small>", 41, 0.97);
addSay(2430, 1301, "Produit de dégradation principal", 50, 1.0);
addSay(2430, 1364, "NON DETECTE", 50, 1.0);
addSay(2524, 1454, "Mettre au point une méthode spécifique", 40, 1.0);
addSay(2520, 1504, "OU analyse des risques", 40, 0.94);

// ---- zoom windows ----
function addFrame(left, top, right, bottom) {
  addEl("frame", `left:${left}px;top:${top}px;width:${right - left}px;height:${bottom - top}px;z-index:5`);
}
addFrame(39, 569, 365, 789);
addChart({
  z: 6, box: { left: 41, top: 571, right: 363, bottom: 787 }, plot: { left: 41, top: 571, right: 363, bottom: 768 },
  xMin: 3.42, xMax: 4.356, yMin: -0.43, yMax: 5.5, width: 1.6,
  xTicks: insetATicks, xLabels: insetALabels, xMinor: aMinor, majorLen: 5, minorLen: 3, xFont: 9, xPad: 1, yAxis: false,
  series: [
    { color: black, data: aBlack }, { color: blue, data: aBlue }, { color: magenta, data: aMagenta }, { color: darkRed, data: aDarkRed },
    { color: green, data: aGreen }, { color: cyan, data: aCyan }, { color: gray, data: aGray }, { color: teal, data: aTeal },
  ],
});
addFrame(620, 361, 2193, 684);
addChart({
  z: 6, box: { left: 623, top: 364, right: 2190, bottom: 681 }, plot: { left: 633, top: 364, right: 2190, bottom: 652 },
  xMin: 5.8, xMax: 30.34, yMin: -5, yMax: 81, width: 1.3,
  xTicks: thermoMidTicks, xLabels: thermoMidLabels, xMinor: midMinor, majorLen: 8, minorLen: 4, xFont: 13, xPad: 1,
  yTicks: thermoMidYTicks, yLabels: thermoMidYLabels, yMinor: midYMinor, yMinorLen: 4, yMajorLen: 5, yColor: teal, yFont: 14, yPad: 0,
  series: [
    { color: black, data: midBlack }, { color: blue, data: midBlue }, { color: magenta, data: midMagenta }, { color: darkRed, data: midDarkRed },
    { color: green, data: midGreen }, { color: cyan, data: midCyan }, { color: gray, data: midGray }, { color: teal, data: midTeal },
  ],
});
addEl("row", "left:2172px;top:638px;font-size:12px;line-height:14px;color:#222;z-index:6", "mi");
addFrame(2272, 206, 2567, 725);
addChart({
  z: 6, box: { left: 2275, top: 209, right: 2564, bottom: 722 }, plot: { left: 2275, top: 209, right: 2564, bottom: 677 },
  xMin: 36.01, xMax: 39.59, yMin: -8.2, yMax: 67.6, width: 1.4,
  xTicks: insetBTicks, xLabels: insetBLabels, xMinor: bMinor, majorLen: 12, minorLen: 6, xFont: 20, xPad: 1, yAxis: false,
  series: [
    { color: black, data: bBlack }, { color: blue, data: bBlue }, { color: magenta, data: bMagenta }, { color: darkRed, data: bDarkRed },
    { color: green, data: bGreen }, { color: cyan, data: bCyan }, { color: gray, data: bGray }, { color: teal, data: bTeal },
    { color: black, width: 1.6, data: bBase },
  ],
});
addFrame(577, 1202, 1004, 1561);
addChart({
  z: 6, box: { left: 579, top: 1204, right: 1001, bottom: 1558 }, plot: { left: 579, top: 1204, right: 1001, bottom: 1531 },
  xMin: 4.69, xMax: 5.223, yMin: -10.7, yMax: 428, width: 1.4,
  xTicks: insetCTicks, xLabels: insetCLabels, xMinor: cMinor, majorLen: 6, minorLen: 3, xFont: 12, xPad: 1, yAxis: false,
  series: [
    { color: "#3a7a00", data: paired(cTimes, cFlat) },
    { color: blue, data: paired(cTimes, cBlue) },
    { color: magenta, data: paired(cTimes, cMagenta) },
    { color: black, data: paired(cTimes, cBlack) },
  ],
});
addFrame(604, 1564, 1816, 1720);
addChart({
  z: 6, box: { left: 607, top: 1567, right: 1814, bottom: 1717 }, plot: { left: 607, top: 1567, right: 1814, bottom: 1687 },
  xMin: 5.72, xMax: 19.14, yMin: 0, yMax: 36, width: 1.1,
  xTicks: hydroMidTicks, xLabels: hydroMidLabels, xMinor: midMinor.filter((t) => t < 19.1), majorLen: 7, minorLen: 4, xFont: 12, xPad: 1, yAxis: false,
  series: [
    { color: blue, data: paired(dLowTimes, dBlue) }, { color: magenta, data: paired(dLowTimes, dMagenta) }, { color: black, data: paired(dLowTimes, dBlack) },
    { color: darkRed, data: dDarkRed }, { color: green, data: dGreen },
  ],
});
addEl("row", "left:1802px;top:1675px;font-size:12px;line-height:14px;color:#222;z-index:6", "m");
addFrame(68, 1484, 429, 1657);
addChart({
  z: 6, box: { left: 71, top: 1487, right: 426, bottom: 1654 }, plot: { left: 71, top: 1487, right: 426, bottom: 1654 },
  xMin: 3.03, xMax: 4.102, yMin: -1, yMax: 4.1, width: 1.8, xAxis: false, yAxis: false,
  series: [
    { color: black, data: eBlack }, { color: blue, data: eBlue }, { color: magenta, data: eMagenta }, { color: darkRed, data: eDarkRed },
    { color: green, data: eGreen }, { color: cyan, data: eCyan },
  ],
});
addFrame(2268, 1571, 2503, 1724);
addChart({
  z: 6, box: { left: 2271, top: 1574, right: 2500, bottom: 1721 }, plot: { left: 2271, top: 1574, right: 2500, bottom: 1721 },
  xMin: 36.8, xMax: 38.19, yMin: -0.27, yMax: 4.25, width: 1.3, xAxis: false, yAxis: false,
  series: [
    { color: black, data: fBlack }, { color: blue, data: fBlue }, { color: magenta, data: fMagenta }, { color: darkRed, data: fDarkRed },
    { color: green, data: fGreen }, { color: cyan, data: fCyan },
  ],
});

// ---- big rotated titles ----
function addTitle(cx, cy, text, size) {
  addEl("title", `left:${cx}px;top:${cy}px;font-size:${size}px;line-height:1;transform:translate(-50%,-50%) rotate(-25deg);z-index:10`, text);
}
addTitle(435, 252, "Thermolyse", 126);
addTitle(266, 1072, "Hydrolyse", 126);
addTitle(330, 1210, "basique", 126);
</script>
</body>
</html>
